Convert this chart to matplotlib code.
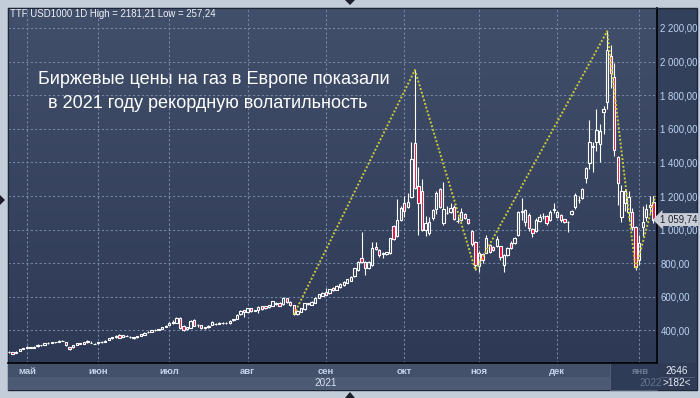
import numpy as np
import matplotlib
matplotlib.use("Agg")
import matplotlib.pyplot as plt
from matplotlib.colors import LinearSegmentedColormap
from matplotlib.patches import Rectangle, Polygon

plt.rcParams['font.family'] = ['Liberation Sans', 'DejaVu Sans']

# TTF, USD за 1000 м3, дневные свечи (конец апреля 2021 - начало января 2022)
open_ = [270, 270, 265, 280, 290, 298, 301, 298, 306, 314, 314, 324, 328, 330, 331, 339, 329, 300, 300, 314,
         323, 322, 330, 325, 320, 324, 329, 333, 342, 353, 359, 373, 360, 368, 361, 356, 359, 368, 375, 388,
         393, 400, 404, 408, 420, 434, 444, 447, 476, 426, 418, 416, 462, 430, 432, 414, 420, 432, 436, 440,
         442, 443, 442, 460, 468, 496, 521, 512, 532, 518, 521, 545, 545, 537, 547, 560, 565, 555, 591, 571,
         551, 500, 512, 526, 560, 553, 565, 595, 607, 631, 621, 655, 641, 657, 670, 684, 696, 724, 760, 829,
         809, 772, 789, 895, 879, 855, 856, 863, 1022, 959, 1057, 1156, 1137, 1196, 1517, 1257, 1228, 998, 982, 1067,
         1121, 1240, 1038, 1098, 1107, 1133, 1050, 1057, 1093, 1061, 994, 929, 784, 854, 863, 908, 897, 900, 902, 789,
         849, 923, 923, 968, 1105, 1048, 1087, 1003, 994, 1053, 1078, 1081, 1057, 1118, 1077, 1087, 1061, 1044, 1093, 1133,
         1175, 1186, 1306, 1395, 1490, 1523, 1508, 1702, 1761, 2033, 1907, 1434, 1075, 1157, 1107, 1102, 1014, 819, 1018, 1077,
         1137, 1162]
high = [276, 272, 276, 290, 296, 306, 303, 306, 318, 316, 325, 331, 333, 332, 341, 341, 331, 302, 314, 325,
        325, 331, 342, 334, 324, 331, 336, 342, 355, 362, 372, 376, 374, 373, 366, 360, 369, 379, 389, 395,
        402, 407, 411, 421, 431, 448, 462, 480, 478, 430, 422, 462, 466, 440, 434, 422, 434, 456, 442, 448,
        450, 449, 460, 470, 496, 520, 524, 534, 535, 524, 544, 548, 548, 553, 578, 568, 567, 598, 594, 573,
        553, 520, 535, 564, 566, 574, 598, 618, 628, 651, 648, 658, 670, 680, 694, 708, 724, 774, 814, 988,
        812, 812, 926, 925, 884, 868, 868, 952, 1030, 1180, 1140, 1200, 1215, 1520, 1950, 1370, 1300, 1080, 1075, 1125,
        1230, 1250, 1285, 1140, 1160, 1145, 1080, 1130, 1100, 1066, 1000, 935, 870, 860, 970, 912, 900, 960, 905, 855,
        895, 930, 955, 1110, 1186, 1125, 1100, 1010, 1070, 1090, 1100, 1085, 1115, 1160, 1110, 1092, 1065, 1050, 1118, 1215,
        1200, 1250, 1370, 1650, 1520, 1720, 1630, 1736, 2181.21, 2099, 1990, 1440, 1266, 1240, 1230, 1130, 1020, 970, 1140, 1150,
        1200, 1200]
low = [266, 257.24, 263, 278, 288, 296, 295, 296, 304, 309, 312, 322, 326, 326, 329, 334, 308, 285, 298, 312,
       318, 320, 328, 324, 317, 322, 327, 331, 340, 351, 357, 352, 358, 365, 357, 350, 357, 366, 373, 386,
       391, 398, 402, 406, 418, 432, 440, 444, 410, 398, 405, 414, 425, 422, 408, 410, 415, 430, 432, 436,
       436, 438, 440, 458, 466, 494, 478, 510, 512, 515, 504, 524, 530, 535, 545, 552, 544, 553, 565, 548,
       489, 494, 508, 524, 552, 550, 562, 592, 604, 608, 618, 634, 638, 654, 667, 680, 694, 720, 756, 800,
       730, 766, 785, 880, 835, 830, 846, 857, 938, 955, 1050, 1077, 1130, 1190, 1240, 968, 990, 962, 965, 1058,
       1095, 1130, 1030, 1090, 1098, 1055, 1040, 1050, 1062, 1034, 905, 760, 750, 800, 858, 862, 870, 895, 820, 750,
       840, 885, 915, 960, 1060, 1020, 990, 955, 985, 1045, 1065, 1030, 1050, 1100, 1070, 1045, 1040, 985, 1088, 1125,
       1160, 1180, 1280, 1360, 1340, 1470, 1404, 1570, 1720, 1843, 1440, 1146, 1048, 1110, 1060, 1000, 760, 790, 960, 1050,
       1100, 1040]
close = [273, 262, 274, 288, 294, 303, 298, 304, 315, 312, 323, 328, 331, 329, 339, 337, 311, 288, 312, 323,
         321, 329, 339, 327, 322, 329, 333, 339, 353, 359, 369, 355, 371, 369, 362, 358, 367, 377, 387, 393,
         400, 404, 408, 418, 428, 446, 452, 475, 413, 402, 410, 456, 428, 432, 412, 418, 425, 452, 440, 446,
         443, 447, 458, 467, 492, 518, 508, 532, 515, 521, 541, 527, 533, 551, 575, 562, 547, 595, 567, 551,
         498, 514, 531, 561, 562, 571, 595, 615, 624, 612, 645, 638, 666, 676, 690, 704, 720, 770, 809, 806,
         770, 808, 889, 884, 849, 858, 864, 948, 942, 1057, 1127, 1112, 1165, 1419, 1246, 1160, 998, 1038, 1048, 1117,
         1216, 1137, 1121, 1100, 1127, 1061, 1052, 1107, 1067, 1038, 914, 789, 859, 820, 952, 869, 880, 945, 835, 849,
         889, 893, 948, 1107, 1108, 1117, 1008, 982, 1057, 1077, 1082, 1038, 1107, 1122, 1102, 1055, 1045, 1046, 1112, 1206,
         1177, 1240, 1365, 1523, 1496, 1593, 1587, 1716, 2069, 1930, 1474, 1276, 1228, 1228, 1196, 1018, 779, 918, 1048, 1123,
         1147, 1059.74]

month_pos = [5, 25, 45, 67, 89, 111, 132, 154, 177]
month_names = ['май', 'июн', 'июл', 'авг', 'сен', 'окт', 'ноя', 'дек', 'янв']
price_ticks = [400, 600, 800, 1000, 1200, 1400, 1600, 1800, 2000, 2200]

# зигзаг между экстремумами
zz_idx = [80, 114, 131, 168, 176, 181.5]
zz_val = [495, 1950, 758, 2181, 765, 1200]

W, H = 700, 398
fig = plt.figure(figsize=(W / 100, H / 100), dpi=100)
fig.patch.set_facecolor('#c3ccd9')

# фон в пикселях
bg = fig.add_axes([0, 0, 1, 1])
bg.set_xlim(0, W)
bg.set_ylim(H, 0)
bg.axis('off')
bg.add_patch(Rectangle((8, 8), 689, 382, fc='#33405b', ec='#1d2538', lw=1))
bg.add_patch(Rectangle((8, 363), 649, 14, fc='#44516b', ec='none'))
bg.add_patch(Rectangle((8, 377), 649, 13, fc='#4d5a73', ec='none'))
bg.add_patch(Rectangle((610, 363), 47, 27, fc='#2f3c57', ec='#56637c', lw=0.6))
bg.add_patch(Rectangle((657, 363), 40, 27, fc='#2f3b55', ec='none'))
bg.plot([660, 694], [377, 377], color='#55627a', lw=0.6)
bg.text(677, 370.5, '2646', ha='center', va='center', fontsize=7.2, color='#e4ebf5')
bg.text(677, 383.5, '>182<', ha='center', va='center', fontsize=7.2, color='#e4ebf5')
bg.add_patch(Polygon([[345, 0], [355, 0], [350, 5]], closed=True, fc='#1a1f2b', ec='none'))
bg.add_patch(Polygon([[345, 398], [355, 398], [350, 392]], closed=True, fc='#1a1f2b', ec='none'))
bg.add_patch(Polygon([[0, 195], [0, 205], [5, 200]], closed=True, fc='#1a1f2b', ec='none'))

ax = fig.add_axes([8 / W, (H - 363) / H, 649 / W, 355 / H])
grad = np.linspace(0, 1, 256).reshape(-1, 1)
cmap = LinearSegmentedColormap.from_list('bgc', ['#2d3955', '#424f6b'])
ax.imshow(grad, extent=[0, 1, 0, 1], transform=ax.transAxes, aspect='auto',
          cmap=cmap, origin='lower', zorder=0)

ax.set_xlim(-0.3, 182.0)
ax.set_ylim(206, 2319)

x = np.arange(len(close))
o = np.array(open_)
c = np.array(close)
hi = np.array(high)
lo = np.array(low)
top = np.maximum(o, c)
bot = np.minimum(o, c)
up = c >= o

ax.vlines(x, top, hi, color='white', lw=0.8, zorder=3)
ax.vlines(x, lo, bot, color='white', lw=0.8, zorder=3)
ax.bar(x[up], (top - bot)[up], bottom=bot[up], width=0.66, facecolor='none',
       edgecolor='white', linewidth=0.8, zorder=4)
ax.bar(x[~up], (top - bot)[~up], bottom=bot[~up], width=0.66, facecolor='#e80c3c',
       edgecolor='white', linewidth=0.8, zorder=4)

ax.plot(zz_idx, zz_val, color='#c9c93a', lw=1.4, ls=(0, (1, 1)), zorder=5)

ax.set_xticks(month_pos, month_names)
ax.set_yticks(price_ticks)
ax.set_yticklabels([f'{v:,.2f}'.replace(',', ' ').replace('.', ',') for v in price_ticks])
ax.yaxis.tick_right()
ax.tick_params(axis='y', length=0, pad=2.5, labelsize=6.9, labelcolor='#bcd3f2')
ax.tick_params(axis='x', length=0, pad=3, labelsize=6.8, labelcolor='#c3d2e8')
for lab in ax.get_xticklabels():
    lab.set_fontweight('bold')
ax.get_xticklabels()[-1].set_color('#6c7a92')
ax.grid(True, color='#7484a2', ls=(0, (2, 2)), lw=0.8, zorder=1)
ax.set_axisbelow(True)
for s in ['top', 'left']:
    ax.spines[s].set_color('#1d2538')
for s in ['right', 'bottom']:
    ax.spines[s].set_color('black')
    ax.spines[s].set_linewidth(1.2)

yr = ax.get_xaxis_transform()
ax.text(month_pos[4], -0.056, '2021', transform=yr, ha='center', va='center',
        fontsize=7.2, color='#d6e0ee')
ax.text(month_pos[8], -0.056, '2022', transform=yr, ha='left', va='center',
        fontsize=7.2, color='#66748c', clip_on=False)

ax.text(0.003, 0.983, 'TTF USD1000 1D High = 2181,21 Low = 257,24', transform=ax.transAxes,
        ha='left', va='center', fontsize=6.9, color='#eef2f8')
ax.text(30 / 649, 1 - (80 - 8) / 355, 'Биржевые цены на газ в Европе показали',
        transform=ax.transAxes, ha='left', va='center', fontsize=13, color='white')
ax.text(40 / 649, 1 - (103 - 8) / 355, 'в 2021 году рекордную волатильность',
        transform=ax.transAxes, ha='left', va='center', fontsize=13, color='white')

ax.text(1.004, close[-1], '1 059,74', transform=ax.get_yaxis_transform(), ha='left',
        va='center', fontsize=6.9, color='#1c2230', clip_on=False, zorder=10,
        bbox=dict(boxstyle='larrow,pad=0.15', fc='#c9cdd6', ec='none'))

fig.savefig('out.png', dpi=100, facecolor=fig.get_facecolor())
